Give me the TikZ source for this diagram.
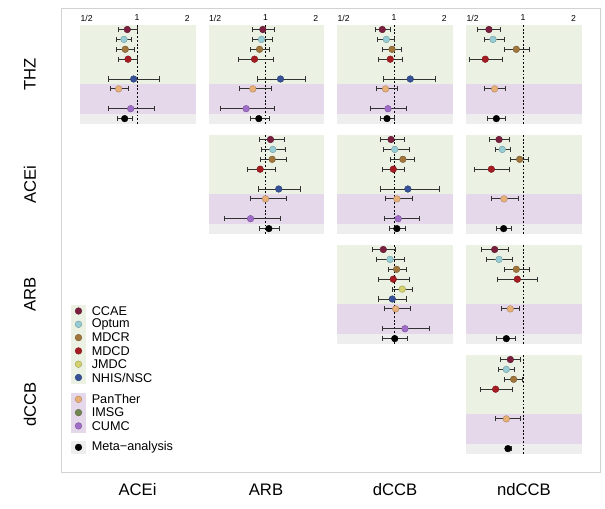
\documentclass[tikz,border=0pt]{standalone}
\usepackage{fontspec}
\setmainfont{Liberation Sans}
\usetikzlibrary{arrows.meta}
\definecolor{ccae}{RGB}{122, 31, 61}
\definecolor{optum}{RGB}{150, 205, 212}
\definecolor{mdcr}{RGB}{160, 118, 60}
\definecolor{mdcd}{RGB}{165, 28, 34}
\definecolor{jmdc}{RGB}{212, 210, 110}
\definecolor{nhis}{RGB}{55, 82, 152}
\definecolor{panther}{RGB}{232, 176, 120}
\definecolor{imsg}{RGB}{115, 135, 80}
\definecolor{cumc}{RGB}{160, 110, 200}
\definecolor{bggreen}{RGB}{235, 242, 228}
\definecolor{bgpurple}{RGB}{230, 216, 235}
\definecolor{bggray}{RGB}{238, 238, 238}
\definecolor{barline}{RGB}{50, 50, 50}

% panel background, #1 left, #2 top
\newcommand{\panelbg}[2]{%
  \fill[bggreen]  (#1,#2)      rectangle ++(115.5,59);
  \fill[bgpurple] (#1,#2+59)   rectangle ++(115.5,29.7);
  \fill[bggray]   (#1,#2+88.7) rectangle ++(115.5,10.3);
  \draw[nullline] (#1+57,#2) -- ++(0,99);
}
% one estimate, #1 x of HR=1, #2 panel top, #3 row, #4 colour, #5 HR, #6 lower, #7 upper
\newcommand{\hrci}[7]{%
  \draw[errbar] ({#1+72.7*ln(#6)},{#2+4.5+9.9*(#3-1)}) -- ({#1+72.7*ln(#7)},{#2+4.5+9.9*(#3-1)});
  \filldraw[draw=#4!75!black, fill=#4, line width=0.3pt] ({#1+72.7*ln(#5)},{#2+4.5+9.9*(#3-1)}) circle (2.5pt);
}

\begin{document}
\begin{tikzpicture}[x=0.75pt, y=-0.75pt,
    errbar/.style={barline, line width=0.75pt, {Bar[width=3.8pt,line width=0.75pt]}-{Bar[width=3.8pt,line width=0.75pt]}},
    nullline/.style={black, line width=0.6pt, dash pattern=on 1.4pt off 1.4pt},
    ticklbl/.style={font=\fontsize{6.5}{7}\selectfont, inner sep=0pt},
    rowlbl/.style={font=\fontsize{12.5}{14}\selectfont, rotate=90, inner sep=0pt},
    collbl/.style={font=\fontsize{12.5}{14}\selectfont, inner sep=0pt},
    legtext/.style={font=\fontsize{9.5}{11}\selectfont, anchor=west, inner sep=0pt}]
\useasboundingbox (0,0) rectangle (605,508);
% Frame
\draw[gray!35, line width=0.6pt] (61,8) rectangle (600,472);

% Backgrounds
\panelbg{80}{25}    \panelbg{208.5}{25}  \panelbg{337}{25}  \panelbg{466}{25}
                    \panelbg{208.5}{135} \panelbg{337}{135} \panelbg{466}{135}
                                         \panelbg{337}{245} \panelbg{466}{245}
                                                            \panelbg{466}{355}

% Axis labels
\foreach \xo [count=\i] in {137,265.5,394,523} {
  \node[ticklbl] (half\i) at (\xo-50.4,18) {1/2};
  \node[ticklbl] (one\i)  at (\xo,18)      {1};
  \node[ticklbl] (two\i)  at (\xo+50.4,18) {2};
}

% THZ vs ACEi
\foreach \r/\c/\m/\l/\u in {1/ccae/0.875/0.77/1.01, 2/optum/0.836/0.745/0.933, 3/mdcr/0.851/0.745/0.968,
    4/mdcd/0.884/0.77/1.01, 6/nhis/0.955/0.67/1.37, 7/panther/0.777/0.686/0.892,
    9/cumc/0.917/0.67/1.275, 10/black/0.844/0.763/0.946}
  \hrci{137}{25}{\r}{\c}{\m}{\l}{\u};
% THZ vs ARB
\foreach \r/\c/\m/\l/\u in {1/ccae/0.964/0.832/1.137, 2/optum/0.946/0.832/1.106, 3/mdcr/0.921/0.813/1.062,
    4/mdcd/0.86/0.683/1.12, 6/nhis/1.229/0.892/1.735, 7/panther/0.84/0.69/1.086,
    9/cumc/0.766/0.538/1.137, 10/black/0.912/0.806/1.071}
  \hrci{265.5}{25}{\r}{\c}{\m}{\l}{\u};
% THZ vs dCCB
\foreach \r/\c/\m/\l/\u in {1/ccae/0.851/0.766/0.964, 2/optum/0.9/0.795/1.02, 3/mdcr/0.973/0.851/1.12,
    4/mdcd/0.95/0.802/1.13, 6/nhis/1.25/0.86/1.79, 7/panther/0.89/0.784/1.057,
    9/cumc/0.92/0.722/1.2, 10/black/0.908/0.821/1.02}
  \hrci{394}{25}{\r}{\c}{\m}{\l}{\u};
% THZ vs ndCCB
\foreach \r/\c/\m/\l/\u in {1/ccae/0.626/0.531/0.742, 2/optum/0.662/0.585/0.777, 3/mdcr/0.912/0.77/1.106,
    4/mdcd/0.595/0.476/0.759, 7/panther/0.677/0.585/0.795, 10/black/0.693/0.612/0.788}
  \hrci{523}{25}{\r}{\c}{\m}{\l}{\u};

% ACEi vs ARB
\foreach \r/\c/\m/\l/\u in {1/ccae/1.071/0.912/1.305, 2/optum/1.106/0.946/1.329, 3/mdcr/1.096/0.921/1.347,
    4/mdcd/0.929/0.777/1.148, 6/nhis/1.2/0.9/1.64, 7/panther/1.0/0.806/1.347,
    9/cumc/0.814/0.563/1.24, 10/black/1.047/0.912/1.229}
  \hrci{265.5}{135}{\r}{\c}{\m}{\l}{\u};
% ACEi vs dCCB
\foreach \r/\c/\m/\l/\u in {1/ccae/0.96/0.825/1.16, 2/optum/1.01/0.86/1.25, 3/mdcr/1.13/0.95/1.33,
    4/mdcd/0.99/0.85/1.16, 6/nhis/1.21/0.82/1.88, 7/panther/1.04/0.88/1.3,
    9/cumc/1.06/0.87/1.43, 10/black/1.04/0.93/1.18}
  \hrci{394}{135}{\r}{\c}{\m}{\l}{\u};
% ACEi vs ndCCB
\foreach \r/\c/\m/\l/\u in {1/ccae/0.719/0.626/0.84, 2/optum/0.752/0.677/0.851, 3/mdcr/0.955/0.84/1.086,
    4/mdcd/0.647/0.507/0.84, 7/panther/0.77/0.64/0.942, 10/black/0.766/0.693/0.863}
  \hrci{523}{135}{\r}{\c}{\m}{\l}{\u};

% ARB vs dCCB
\foreach \r/\c/\m/\l/\u in {1/ccae/0.863/0.735/1.023, 2/optum/0.946/0.777/1.163, 3/mdcr/1.037/0.925/1.2,
    4/mdcd/0.99/0.806/1.247, 5/jmdc/1.12/0.968/1.3, 6/nhis/0.977/0.806/1.2,
    7/panther/1.023/0.87/1.258, 9/cumc/1.163/0.851/1.634, 10/black/1.01/0.844/1.218}
  \hrci{394}{245}{\r}{\c}{\m}{\l}{\u};
% ARB vs ndCCB
\foreach \r/\c/\m/\l/\u in {1/ccae/0.677/0.558/0.824, 2/optum/0.719/0.604/0.871, 3/mdcr/0.912/0.766/1.106,
    4/mdcd/0.925/0.702/1.229, 7/panther/0.84/0.742/0.964, 10/black/0.795/0.693/0.912}
  \hrci{523}{245}{\r}{\c}{\m}{\l}{\u};

% dCCB vs ndCCB
\foreach \r/\c/\m/\l/\u in {1/ccae/0.84/0.725/0.977, 2/optum/0.795/0.709/0.9, 3/mdcr/0.879/0.77/1.0,
    4/mdcd/0.686/0.556/0.871, 7/panther/0.795/0.677/0.968, 10/black/0.813/0.777/0.863}
  \hrci{523}{355}{\r}{\c}{\m}{\l}{\u};

% Row and column labels
\node[rowlbl] (rowTHZ)  at (30,74.5) {THZ};
\node[rowlbl] (rowACEi) at (30,184.5) {ACEi};
\node[rowlbl] (rowARB)  at (30,294.5) {ARB};
\node[rowlbl] (rowdCCB) at (30,404.5) {dCCB};
\node[collbl] (colACEi)  at (137.5,490) {ACEi};
\node[collbl] (colARB)   at (266,490)   {ARB};
\node[collbl] (coldCCB)  at (395,490)   {dCCB};
\node[collbl] (colndCCB) at (524,490)   {ndCCB};

% Legend
\fill[bggreen]  (71,304.5) rectangle (86,384);
\fill[bgpurple] (71,392.5) rectangle (86,432.5);
\fill[bggray]   (71,440.5) rectangle (86,454);
\foreach \y/\c/\t in {311/ccae/CCAE, 324.3/optum/Optum, 337.6/mdcr/MDCR, 350.9/mdcd/MDCD,
    364.2/jmdc/JMDC, 377.5/nhis/{NHIS/NSC}, 399.3/panther/PanTher, 412.6/imsg/IMSG,
    425.9/cumc/CUMC, 447.3/black/Meta−analysis} {
  \filldraw[draw=\c!75!black, fill=\c, line width=0.3pt] (78.5,\y) circle (2.5pt);
  \node[legtext] (leg\c) at (91.5,\y) {\t};
}
\end{tikzpicture}
\end{document}
